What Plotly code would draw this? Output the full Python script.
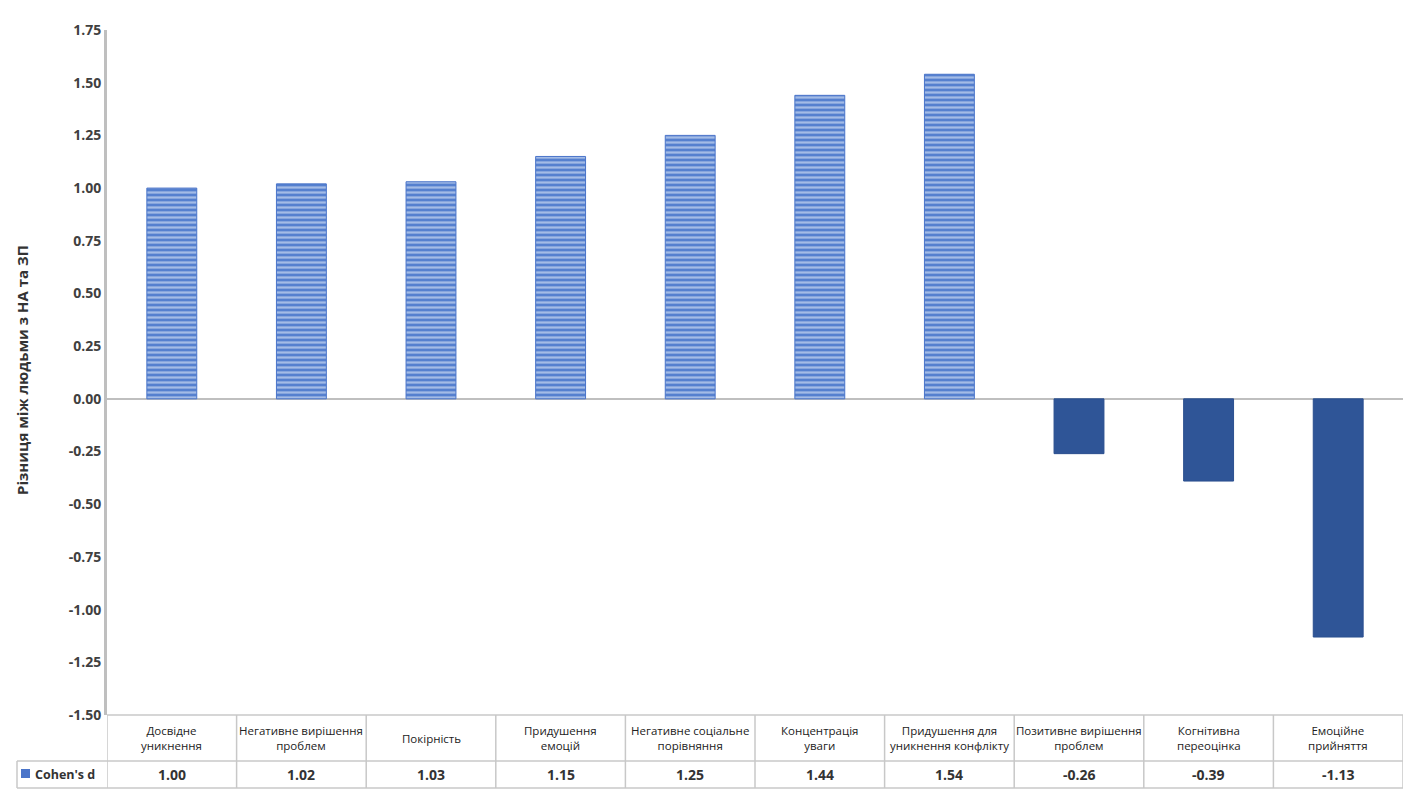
import plotly.graph_objects as go

categories = ["Досвідне<br>уникнення", "Негативне вирішення<br>проблем", "Покірність",
              "Придушення<br>емоцій", "Негативне соціальне<br>порівняння", "Концентрація<br>уваги",
              "Придушення для<br>уникнення конфлікту", "Позитивне вирішення<br>проблем",
              "Когнітивна<br>переоцінка", "Емоційне<br>прийняття"]
values = [1.00, 1.02, 1.03, 1.15, 1.25, 1.44, 1.54, -0.26, -0.39, -1.13]
series_name = "Cohen's d"
tick_vals = [-1.5, -1.25, -1.0, -0.75, -0.5, -0.25, 0, 0.25, 0.5, 0.75, 1.0, 1.25, 1.5, 1.75]
y_title = "Різниця між людьми з НА та ЗП"

OFF = 8  # page body margin
W, H = 1401, 787
L = 107 - OFF
T = 30 - OFF
R = OFF + W - 1403
B = OFF + H - 715
ph = H - T - B
pw = W - L - R

def py(px):
    return (H - B - (px - OFF)) / ph

def pxx(px):
    return (px - OFF - L) / pw

xs = list(range(len(categories)))
pos_x = [i for i, v in zip(xs, values) if v >= 0]
pos_v = [v for v in values if v >= 0]
neg_x = [i for i, v in zip(xs, values) if v < 0]
neg_v = [v for v in values if v < 0]

fig = go.Figure()
fig.add_bar(x=pos_x, y=pos_v, width=0.385, name=series_name,
            marker=dict(color="#4a74c9", line=dict(color="#4a74c9", width=1),
                        pattern=dict(shape="-", fgcolor="#f2f6fd", bgcolor="#5580cf",
                                     size=5, solidity=0.45)),
            hoverinfo="y", showlegend=False)
fig.add_bar(x=neg_x, y=neg_v, width=0.385, name=series_name,
            marker=dict(color="#2f5597", line=dict(color="#2a4f8f", width=1)),
            hoverinfo="y", showlegend=False)

grid = "#c8c8c8"
shapes = []
y_top, y_mid, y_bot = py(715), py(761), py(788)
x_left = pxx(17)
shapes.append(dict(type="line", xref="paper", yref="paper", x0=x_left, x1=1, y0=y_mid, y1=y_mid,
                   line=dict(color=grid, width=1.5)))
shapes.append(dict(type="line", xref="paper", yref="paper", x0=x_left, x1=1,
                   y0=y_bot, y1=y_bot, line=dict(color=grid, width=1.5)))
shapes.append(dict(type="line", xref="paper", yref="paper", x0=x_left, x1=x_left,
                   y0=y_mid, y1=y_bot, line=dict(color=grid, width=1.5)))
shapes.append(dict(type="line", xref="paper", yref="paper", x0=0, x1=1, y0=y_top, y1=y_top,
                   line=dict(color=grid, width=1.5)))
for i in range(len(categories) + 1):
    shapes.append(dict(type="line", xref="x", yref="paper", x0=i - 0.5, x1=i - 0.5,
                       y0=y_bot, y1=y_top, line=dict(color=grid, width=1.5)))
shapes.append(dict(type="rect", xref="paper", yref="paper",
                   x0=pxx(21), x1=pxx(30), y0=py(778), y1=py(769),
                   fillcolor="#4a74c9", line=dict(width=0)))

ann = []
for i, (c, v) in enumerate(zip(categories, values)):
    ann.append(dict(x=i, y=(y_top + y_mid) / 2, xref="x", yref="paper", text=c, showarrow=False,
                    font=dict(family="Open Sans", size=11.5, color="#222222"), yanchor="middle"))
    ann.append(dict(x=i, y=(y_mid + y_bot) / 2, xref="x", yref="paper", text=f"<b>{v:.2f}</b>",
                    showarrow=False, font=dict(family="Open Sans", size=14, color="#333333"),
                    yanchor="middle"))
ann.append(dict(x=pxx(33), y=(y_mid + y_bot) / 2, xref="paper", yref="paper",
                text=f"<b>{series_name}</b>", showarrow=False, xanchor="left", yanchor="middle",
                font=dict(family="Open Sans", size=12.5, color="#333333")))
ann.append(dict(x=pxx(22), y=py(370), xref="paper", yref="paper",
                text=f"<b>{y_title}</b>", showarrow=False, textangle=-90,
                xanchor="center", yanchor="middle",
                font=dict(family="Open Sans", size=15, color="#333333")))

fig.update_layout(
    width=W, height=H, margin=dict(l=L, r=R, t=T, b=B),
    plot_bgcolor="white", paper_bgcolor="white",
    barmode="overlay", shapes=shapes, annotations=ann,
    xaxis=dict(range=[-0.5, len(categories) - 0.5], showticklabels=False, showgrid=False,
               zeroline=False, showline=False, fixedrange=True),
    yaxis=dict(range=[-1.5, 1.75], tickvals=tick_vals, ticktext=[f"<b>{t:.2f}</b>" for t in tick_vals],
               showgrid=False, zeroline=True, zerolinecolor="#bfbfbf", zerolinewidth=2,
               showline=True, linecolor="#bfbfbf", linewidth=3, ticks="", ticklen=0,
               tickfont=dict(family="Open Sans", size=14, color="#404040"), fixedrange=True),
)

fig.write_html("out.html")
